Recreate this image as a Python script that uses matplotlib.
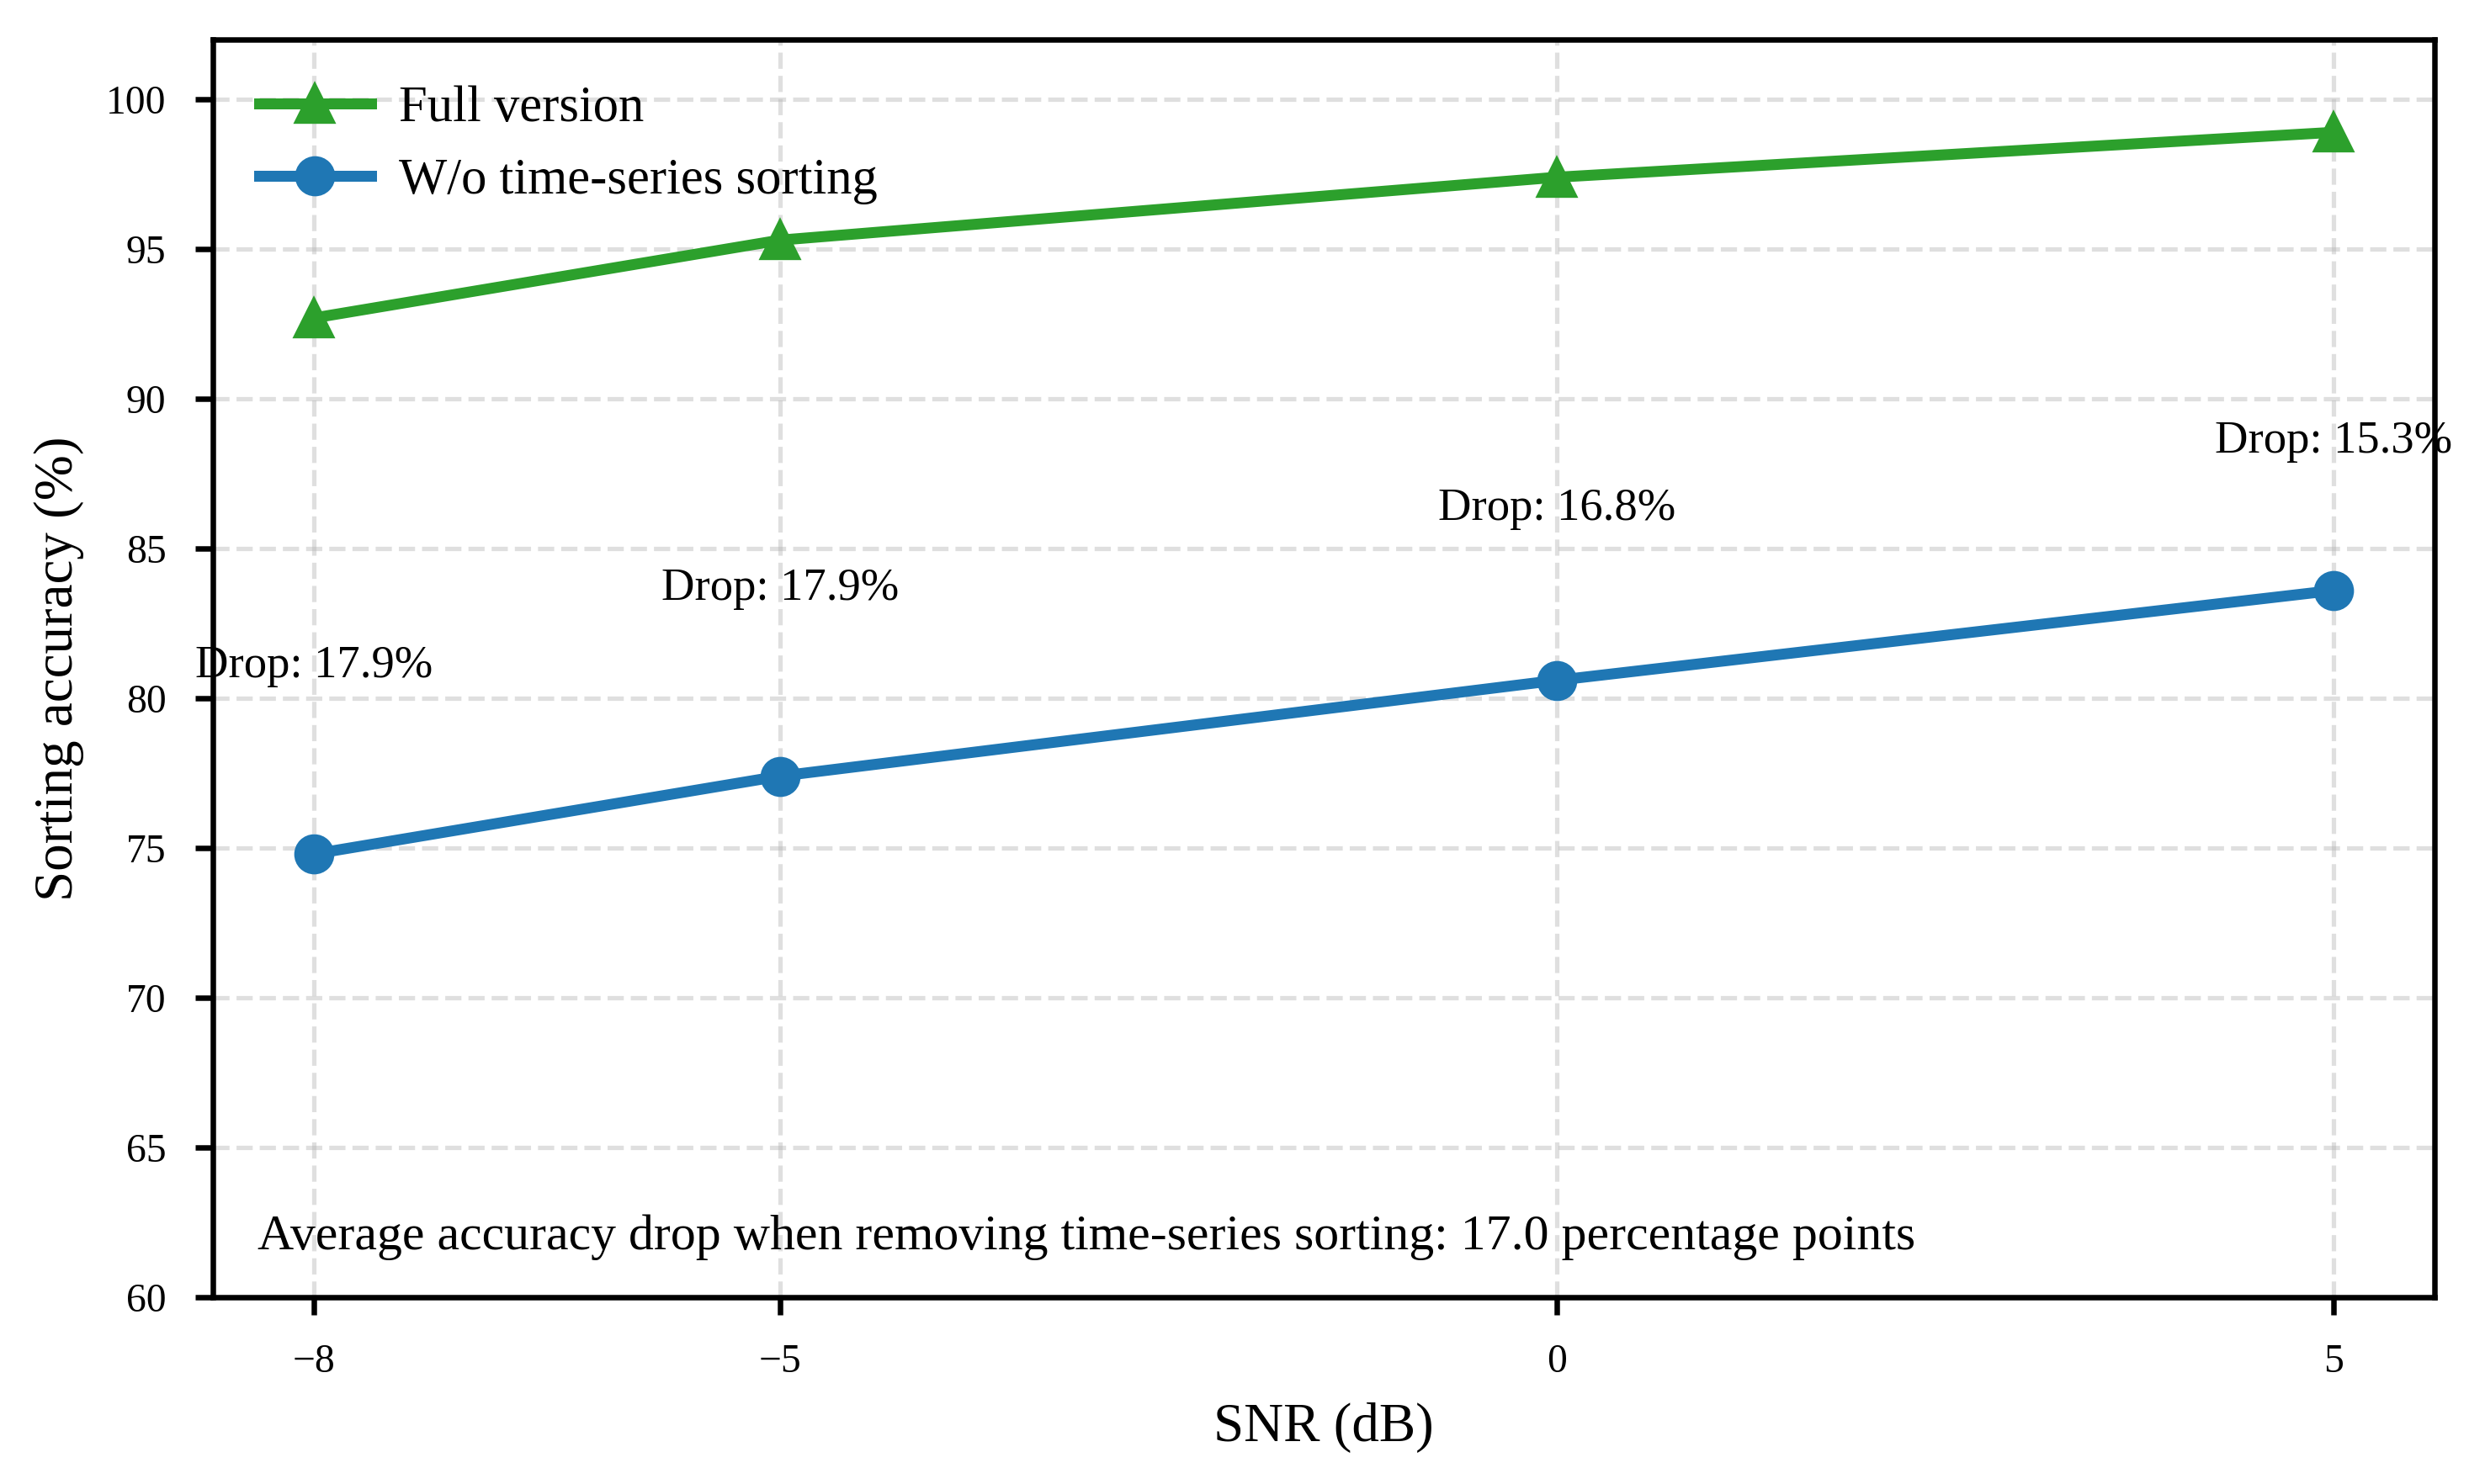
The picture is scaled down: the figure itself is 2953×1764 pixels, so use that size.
import numpy as np
import matplotlib
matplotlib.use("Agg")
import matplotlib.pyplot as plt

plt.rcParams["font.family"] = ["Liberation Serif", "DejaVu Serif"]
plt.rcParams["mathtext.fontset"] = "stix"

# data
snr_db = [-8, -5, 0, 5]
acc_full = [92.7, 95.3, 97.4, 98.9]
acc_wo_sort = [74.8, 77.4, 80.6, 83.6]
label_full = "Full version"
label_wo = "W/o time-series sorting"

DPI = 312
fig, ax = plt.subplots(figsize=(2953 / DPI, 1764 / DPI), dpi=DPI)
fig.subplots_adjust(left=0.0857, right=0.9797, top=0.9734, bottom=0.1259)

ax.plot(snr_db, acc_full, marker="^", color="#2ca02c", lw=3, markersize=10,
        label=label_full)
ax.plot(snr_db, acc_wo_sort, marker="o", color="#1f77b4", lw=3, markersize=10,
        label=label_wo)

drops = np.array(acc_full) - np.array(acc_wo_sort)
for x, f, w, d in zip(snr_db, acc_full, acc_wo_sort, drops):
    ax.text(x, (f + w) / 2 - 3.05, f"Drop: {d:.1f}%", ha="center",
            va="baseline", fontsize=12.6)

ax.text(0.02, 0.038,
        f"Average accuracy drop when removing time-series sorting: "
        f"{drops.mean():.1f} percentage points",
        transform=ax.transAxes, ha="left", va="baseline", fontsize=13.8)

ax.set_ylim(60, 102)
ax.set_xticks(snr_db)
ax.set_yticks(np.arange(60, 101, 5))
ax.set_xlabel("SNR (dB)", fontsize=15, labelpad=6)
ax.set_ylabel("Sorting accuracy (%)", fontsize=15, labelpad=6)
ax.tick_params(labelsize=11, length=4.8, width=1.5, pad=8)
for sp in ax.spines.values():
    sp.set_linewidth(1.5)
ax.grid(True, linestyle="--", lw=1.2, alpha=0.4)

ax.legend(loc="upper left", frameon=False, fontsize=14, handlelength=2.2,
          handletextpad=0.54)

fig.savefig("out.png", dpi=DPI)
